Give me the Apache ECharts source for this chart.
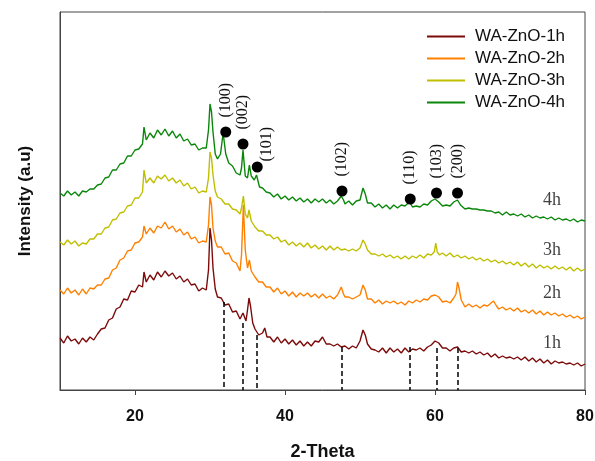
<!DOCTYPE html>
<html>
<head>
<meta charset="utf-8">
<script src="https://cdn.jsdelivr.net/npm/echarts@6.0.0/dist/echarts.min.js"></script>
<style>
html,body{margin:0;padding:0;background:#fff;}
#chart{width:595px;height:461px;}
</style>
</head>
<body>
<div id="chart"></div>
<script>
// [2-theta, intensity] (arbitrary units, offset per sample)
var xrd1h = [[10,52],[10.5,47],[11,54],[11.5,49],[12,51],[12.5,46],[13,52],[13.5,48],[14,53],[14.5,50],[15,56],[15.5,61],[16,62],[16.5,70],[17,72],[17.5,81],[18,83],[18.5,91],[19,90],[19.5,99],[20,98],[20.5,105],[21,103],[21.2,118],[21.5,108],[22,115],[22.5,110],[23,118],[23.5,113],[24,119],[24.5,114],[25,117],[25.5,111],[26,114],[26.5,108],[27,111],[27.5,105],[28,106],[28.5,99],[29,102],[29.5,100],[29.8,120],[30,162],[30.2,150],[30.4,122],[30.7,101],[31,93],[31.5,92],[32,85],[32.5,86],[33,78],[33.5,79],[34,71],[34.4,77],[34.8,69],[35,80],[35.2,92],[35.4,84],[35.7,67],[36,61],[36.5,55],[37,57],[37.3,62],[37.6,53],[38,53],[38.5,48],[39,53],[39.5,47],[40,51],[40.5,46],[41,50],[41.5,45],[42,49],[42.5,44],[43,48],[43.5,44],[44,49],[44.5,48],[45,53],[45.5,46],[46,46],[46.5,44],[47,46],[47.5,43],[48,44],[48.5,41],[49,44],[49.5,42],[50,49],[50.4,60],[50.7,55],[51,46],[51.5,41],[52,40],[52.5,38],[53,42],[53.5,37],[54,42],[54.5,38],[55,41],[55.5,37],[56,42],[56.5,38],[57,41],[57.5,40],[58,42],[58.5,39],[59,43],[59.5,45],[60,49],[60.5,47],[61,42],[61.5,42],[62,39],[62.5,42],[63,43],[63.5,38],[64,39],[64.5,37],[65,39],[65.5,36],[66,38],[66.5,35],[67,37],[67.5,33],[68,36],[68.5,32],[69,34],[69.5,32],[70,33],[70.5,31],[71,33],[71.5,30],[72,33],[72.5,29],[73,32],[73.5,28],[74,31],[74.5,27],[75,30],[75.5,26],[76,29],[76.5,27],[77,28],[77.5,26],[78,27],[78.5,25],[79,27],[79.5,24],[80,26]];
var xrd2h = [[10,100],[10.5,96],[11,102],[11.5,97],[12,100],[12.5,95],[13,101],[13.5,96],[14,102],[14.5,101],[15,105],[15.5,105],[16,111],[16.5,112],[17,120],[17.5,122],[18,130],[18.5,132],[19,139],[19.5,140],[20,147],[20.5,148],[21,153],[21.2,164],[21.5,156],[22,162],[22.5,157],[23,164],[23.5,162],[24,168],[24.5,161],[25,164],[25.5,158],[26,161],[26.5,155],[27,158],[27.5,151],[28,153],[28.5,147],[29,149],[29.5,148],[29.8,165],[30,193],[30.2,185],[30.4,162],[30.7,149],[31,143],[31.5,143],[32,136],[32.5,137],[33,129],[33.5,127],[34,119],[34.2,135],[34.45,185],[34.7,140],[35,122],[35.25,130],[35.5,119],[36,113],[36.5,108],[37,108],[37.5,103],[38,103],[38.5,98],[39,102],[39.5,96],[40,99],[40.5,94],[41,98],[41.5,93],[42,97],[42.5,94],[43,97],[43.5,93],[44,96],[44.5,92],[45,96],[45.5,92],[46,94],[46.5,91],[47,95],[47.5,103],[47.8,96],[48,93],[48.5,93],[49,91],[49.5,93],[50,95],[50.4,105],[50.7,100],[51,91],[51.5,91],[52,87],[52.5,90],[53,86],[53.5,89],[54,87],[54.5,89],[55,86],[55.5,88],[56,85],[56.5,89],[57,87],[57.5,90],[58,88],[58.5,91],[59,90],[59.5,94],[60,95],[60.5,93],[61,88],[61.5,89],[62,87],[62.5,92],[62.8,96],[63,108],[63.2,102],[63.5,90],[64,83],[64.5,86],[65,83],[65.5,85],[66,82],[66.5,85],[67,84],[67.8,89],[68.2,84],[68.5,81],[69,83],[69.5,80],[70,82],[70.5,79],[71,82],[71.5,78],[72,80],[72.5,77],[73,80],[73.5,76],[74,79],[74.5,75],[75,78],[75.5,75],[76,77],[76.5,74],[77,76],[77.5,73],[78,75],[78.5,72],[79,74],[79.5,71],[80,73]];
var xrd3h = [[10,148],[10.5,145],[11,150],[11.5,146],[12,149],[12.5,144],[13,147],[13.5,146],[14,151],[14.5,151],[15,156],[15.5,156],[16,162],[16.5,163],[17,170],[17.5,171],[18,177],[18.5,178],[19,184],[19.5,185],[20,192],[20.5,192],[21,198],[21.2,220],[21.5,207],[22,212],[22.5,207],[23,214],[23.5,211],[24,215],[24.5,209],[25,212],[25.5,207],[26,210],[26.5,204],[27,207],[27.5,201],[28,203],[28.5,197],[29,199],[29.5,198],[29.8,212],[30,238],[30.2,232],[30.4,215],[30.7,199],[31,193],[31.5,191],[32,186],[32.5,186],[33,181],[33.5,180],[34,176],[34.2,182],[34.45,194],[34.7,176],[35,172],[35.2,180],[35.5,169],[36,163],[36.5,159],[37,159],[37.5,155],[38,155],[38.5,151],[39,153],[39.5,148],[40,150],[40.5,145],[41,148],[41.5,144],[42,147],[42.5,143],[43,147],[43.5,142],[44,145],[44.5,141],[45,144],[45.5,140],[46,144],[46.5,140],[47,143],[47.5,140],[48,141],[48.5,139],[49,141],[49.5,139],[50,142],[50.4,150],[50.7,146],[51,140],[51.5,136],[52,136],[52.5,134],[53,136],[53.5,133],[54,135],[54.5,132],[55,134],[55.5,131],[56,134],[56.5,131],[57,134],[57.5,132],[58,135],[58.5,132],[59,136],[59.5,135],[59.9,138],[60.1,147],[60.3,138],[60.6,135],[61,137],[61.5,134],[62,137],[62.5,133],[63,135],[63.5,132],[64,134],[64.5,131],[65,133],[65.5,130],[66,132],[66.5,129],[67,131],[67.5,128],[68,130],[68.5,127],[69,129],[69.5,126],[70,128],[70.5,125],[71,128],[71.5,124],[72,127],[72.5,123],[73,126],[73.5,122],[74,125],[74.5,122],[75,124],[75.5,121],[76,124],[76.5,121],[77,123],[77.5,120],[78,123],[78.5,119],[79,122],[79.5,119],[80,121]];
var xrd4h = [[10,197],[10.5,194],[11,199],[11.5,195],[12,198],[12.5,194],[13,199],[13.5,198],[14,201],[14.5,201],[15,205],[15.5,206],[16,212],[16.5,213],[17,220],[17.5,220],[18,226],[18.5,227],[19,234],[19.5,234],[20,240],[20.5,241],[21,246],[21.2,263],[21.5,250],[22,257],[22.5,252],[23,260],[23.5,255],[24,261],[24.5,254],[25,259],[25.5,252],[26,256],[26.5,249],[27,251],[27.5,245],[28,246],[28.5,240],[29,242],[29.5,242],[29.8,260],[30,286],[30.2,278],[30.4,258],[30.7,236],[31,231],[31.4,236],[31.75,257],[32.1,236],[32.5,227],[33,224],[33.5,217],[34,215],[34.2,222],[34.4,240],[34.7,214],[35,212],[35.25,225],[35.5,214],[35.9,210],[36.2,215],[36.6,203],[37,202],[37.5,198],[38,197],[38.5,193],[39,196],[39.5,191],[40,194],[40.5,190],[41,193],[41.5,189],[42,192],[42.5,188],[43,191],[43.5,187],[44,191],[44.5,188],[45,191],[45.5,187],[46,190],[46.5,186],[47,189],[47.5,194],[47.8,190],[48,186],[48.5,189],[49,185],[49.5,189],[50,190],[50.4,202],[50.7,196],[51,187],[51.5,187],[52,183],[52.5,186],[53,182],[53.5,185],[54,181],[54.5,185],[55,182],[55.5,185],[56,184],[56.6,188],[57,183],[57.5,184],[58,183],[58.5,186],[59,185],[59.5,189],[60,191],[60.5,188],[61,184],[61.5,185],[62,184],[62.5,188],[63,190],[63.4,185],[64,181],[64.5,182],[65,181],[65.5,181],[66,180],[66.5,180],[67,179],[67.5,179],[68,177],[68.5,178],[69,175],[69.5,178],[70,175],[70.5,176],[71,174],[71.5,176],[72,173],[72.5,175],[73,172],[73.5,174],[74,172],[74.5,173],[75,171],[75.5,173],[76,170],[76.5,172],[77,170],[77.5,171],[78,169],[78.5,171],[79,168],[79.5,170],[80,169]];

var sampleNames = ['WA-ZnO-1h', 'WA-ZnO-2h', 'WA-ZnO-3h', 'WA-ZnO-4h'];
var sampleTags = ['1h', '2h', '3h', '4h'];
var tagY = [47, 97, 140, 190];
var tagX = 75.6;

// ZnO reflections: label, dot position on 4h pattern, dashed reference line
var peakNames = ['(100)', '(002)', '(101)', '(102)', '(110)', '(103)', '(200)'];
var peakDotX = [32.1, 34.4, 36.3, 47.6, 56.7, 60.2, 63.0];
var peakDotY = [258, 246, 223, 199, 191, 197, 197];
var refLineX = [31.8, 34.4, 36.2, 47.6, 56.6, 60.2, 63.0];
var refLineTop = [88, 67, 55, 43, 43, 42, 42];

var xTicks = [20, 40, 60, 80];

var colors = ['#7d0a0a', '#ff8000', '#bfbf00', '#0a870a'];
var patterns = [xrd1h, xrd2h, xrd3h, xrd4h];

var chart = echarts.init(document.getElementById('chart'));

var series = [];
for (var i = 0; i < patterns.length; i++) {
    series.push({
        name: sampleNames[i],
        type: 'line',
        data: patterns[i],
        showSymbol: false,
        symbol: 'none',
        lineStyle: {width: 1.4, color: colors[i]},
        itemStyle: {color: colors[i]},
        z: 2
    });
}

var refLines = [];
for (var k = 0; k < refLineX.length; k++) {
    refLines.push([{coord: [refLineX[k], refLineTop[k]]}, {coord: [refLineX[k], 0]}]);
}
series.push({
    type: 'line',
    data: [],
    markLine: {
        silent: true,
        symbol: 'none',
        label: {show: false},
        lineStyle: {color: '#000', type: [5, 3], width: 1.5},
        data: refLines
    }
});

var dots = [];
for (var j = 0; j < peakNames.length; j++) {
    dots.push({
        name: peakNames[j],
        value: [peakDotX[j], peakDotY[j]],
        // (101) label sits lower and to the right of its dot
        label: j === 2 ? {offset: [-9, 10]} : {}
    });
}
series.push({
    type: 'scatter',
    data: dots,
    symbolSize: 11,
    itemStyle: {color: '#000', opacity: 1},
    z: 5,
    label: {
        show: true,
        position: 'top',
        distance: 9,
        rotate: 90,
        align: 'left',
        verticalAlign: 'middle',
        formatter: '{b}',
        fontFamily: 'Liberation Serif',
        fontSize: 16,
        color: '#111'
    }
});

var tags = [];
for (var t = 0; t < sampleTags.length; t++) {
    tags.push({name: sampleTags[t], value: [tagX, tagY[t]]});
}
series.push({
    type: 'scatter',
    data: tags,
    symbolSize: 0,
    label: {
        show: true,
        position: 'inside',
        formatter: '{b}',
        fontFamily: 'Liberation Serif',
        fontSize: 18,
        color: '#111'
    }
});

var option = {
    backgroundColor: '#fff',
    animation: false,
    grid: {
        left: 60, right: 10, top: 12, bottom: 71,
        outerBoundsMode: 'none',
        show: true, borderColor: '#444', borderWidth: 1
    },
    legend: {
        data: sampleNames,
        orient: 'vertical',
        left: 422,
        top: 23,
        itemWidth: 38,
        itemHeight: 2,
        itemGap: 5,
        icon: 'rect',
        textStyle: {
            fontFamily: 'Liberation Sans',
            fontSize: 17,
            color: '#111',
            padding: [0, 0, 0, 5]
        }
    },
    xAxis: {
        type: 'value',
        min: 10,
        max: 80,
        name: '2-Theta',
        nameLocation: 'middle',
        nameGap: 53,
        nameTextStyle: {fontFamily: 'Liberation Sans', fontWeight: 'bold', fontSize: 18, color: '#111'},
        axisLine: {lineStyle: {color: '#444', width: 1}},
        axisTick: {show: true, length: 5, inside: false, customValues: xTicks, lineStyle: {color: '#444'}},
        axisLabel: {customValues: xTicks, margin: 19, fontFamily: 'Liberation Sans', fontWeight: 'bold', fontSize: 16, color: '#111'},
        splitLine: {show: false}
    },
    yAxis: {
        type: 'value',
        min: 0,
        max: 378,
        name: 'Intensity (a.u)',
        nameLocation: 'middle',
        nameGap: 26,
        nameTextStyle: {fontFamily: 'Liberation Sans', fontWeight: 'bold', fontSize: 17, color: '#111'},
        axisLine: {show: true, lineStyle: {color: '#444', width: 1}},
        axisTick: {show: false},
        axisLabel: {show: false},
        splitLine: {show: false}
    },
    series: series
};
chart.setOption(option);
</script>
</body>
</html>
